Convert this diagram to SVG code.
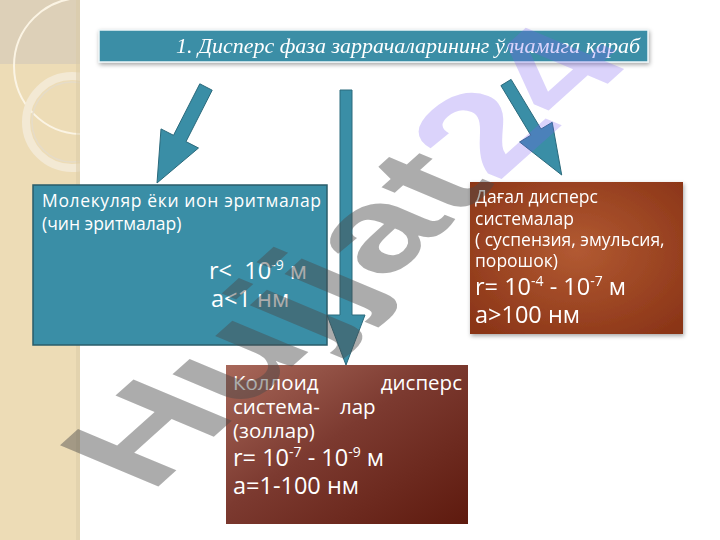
<svg xmlns="http://www.w3.org/2000/svg" width="720" height="540" viewBox="0 0 720 540">
<defs>
<style>
.box{font-family:"Open Sans","DejaVu Sans",sans-serif;fill:#ffffff}
.arrow{fill:#3a8ea6;stroke:#2b6a7c;stroke-width:1}
</style>
<radialGradient id="gBrownR" cx="0.5" cy="0.45" r="0.7">
<stop offset="0" stop-color="#b25a32"/>
<stop offset="1" stop-color="#8a3417"/>
</radialGradient>
<linearGradient id="gBrownB" x1="0" y1="0" x2="1" y2="1">
<stop offset="0" stop-color="#a8685a"/>
<stop offset="0.45" stop-color="#7c3a30"/>
<stop offset="1" stop-color="#5e1a0e"/>
</linearGradient>
<filter id="sh" x="-10%" y="-10%" width="125%" height="130%">
<feDropShadow dx="1" dy="2" stdDeviation="2" flood-color="#000" flood-opacity="0.35"/>
</filter>
<clipPath id="strip"><rect x="0" y="0" width="80" height="540"/></clipPath>
</defs>
<rect width="720" height="540" fill="#ffffff"/>
<g id="background" clip-path="url(#strip)">
<rect x="0" y="0" width="80" height="540" fill="#eddcb6"/>
<rect x="0" y="0" width="80" height="64" fill="#ddd0b8"/>
<circle cx="82" cy="66" r="68" fill="none" stroke="#fbf4e4" stroke-width="2"/>
<circle cx="72" cy="122" r="46" fill="none" stroke="#f3e9d4" stroke-width="8"/>
<circle cx="72" cy="122" r="40" fill="none" stroke="#e6dcc8" stroke-width="1.5"/>
<rect x="76" y="0" width="4" height="540" fill="#d9c9a6" opacity="0.5"/>
</g>
<g id="title" filter="url(#sh)">
<rect x="99" y="30" width="549" height="32" fill="#3a8ea6" stroke="#eef6f8" stroke-width="1.5"/>
<text x="640" y="53" text-anchor="end" font-family="'Liberation Serif',serif" font-style="italic" font-size="22" fill="#ffffff">1. Дисперс фаза заррачаларининг ўлчамига қараб</text>
</g>
<g id="connectors">
<polygon class="arrow" points="199.8,83.8 212.2,90.2 186,141.6 198.5,148 157,183 161,128.9 173.5,135.3"/>
<polygon class="arrow" points="340,90 352,90 352,315 365,315 346,365 327,315 340,315"/>
<polygon class="arrow" points="500.9,85.6 511.1,79.4 541,129 552.2,122.3 561.7,175 519.6,142 530.8,135.2"/>
</g>
<g id="node-molecular">
<rect x="33" y="185" width="294" height="160" fill="#3a8ea6" stroke="#2a5c6a" stroke-width="1.5"/>
<text class="box" font-size="17.5" x="42" y="207" textLength="279" lengthAdjust="spacing">Молекуляр ёки ион эритмалар</text>
<text class="box" font-size="17.5" x="42" y="230">(чин эритмалар)</text>
<text class="box" font-size="23.5" x="209" y="279" xml:space="preserve">r&lt;  10<tspan font-size="14" dy="-9">-9</tspan><tspan dy="9"> м</tspan></text>
<text class="box" font-size="23.5" x="211" y="307">a&lt;1 нм</text>
</g>
<g id="node-coarse" filter="url(#sh)">
<rect x="470" y="182" width="213" height="152" fill="url(#gBrownR)"/>
<text class="box" font-size="17.5" x="475" y="203">Дағал дисперс</text>
<text class="box" font-size="17.5" x="475" y="225">системалар</text>
<text class="box" font-size="17.5" x="475" y="246">( суспензия, эмульсия,</text>
<text class="box" font-size="17.5" x="475" y="267">порошок)</text>
<text class="box" font-size="23.5" x="475" y="295">r= 10<tspan font-size="14" dy="-9">-4</tspan><tspan dy="9"> - 10</tspan><tspan font-size="14" dy="-9">-7</tspan><tspan dy="9"> м</tspan></text>
<text class="box" font-size="23.5" x="475" y="323">a&gt;100 нм</text>
</g>
<g id="node-colloid">
<rect x="226" y="365" width="242" height="159" fill="url(#gBrownB)"/>
<text class="box" font-size="20.5" x="233" y="390">Коллоид</text>
<text class="box" font-size="20.5" x="462" y="390" text-anchor="end">дисперс</text>
<text class="box" font-size="20.5" x="233" y="414">система-</text>
<text class="box" font-size="20.5" x="340" y="414">лар</text>
<text class="box" font-size="20.5" x="233" y="438">(золлар)</text>
<text class="box" font-size="23.5" x="233" y="466">r= 10<tspan font-size="14" dy="-9">-7</tspan><tspan dy="9"> - 10</tspan><tspan font-size="14" dy="-9">-9</tspan><tspan dy="9"> м</tspan></text>
<text class="box" font-size="23.5" x="233" y="494">a=1-100 нм</text>
</g>
<g id="watermark" font-family="'Liberation Sans',sans-serif" font-weight="bold" font-size="100" transform="matrix(1.25,-1.12,1.43,0.6,150,494)">
<text x="0" y="0" fill="#4a4a4a" opacity="0.45">Hujjat<tspan fill="#7a5ef0" fill-opacity="0.6">24</tspan></text>
</g>
</svg>
